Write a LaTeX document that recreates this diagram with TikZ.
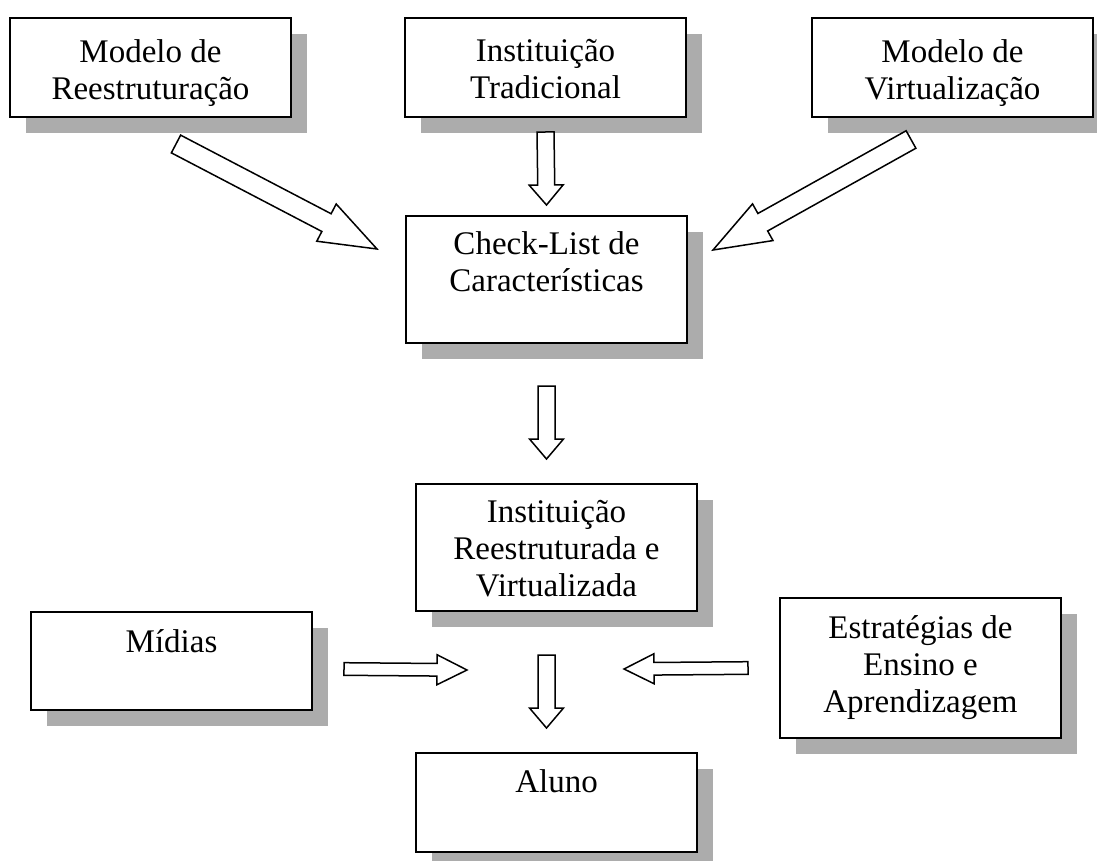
\documentclass[tikz,border=0pt]{standalone}
\usepackage{fontspec}
\setmainfont{Liberation Serif}
\usetikzlibrary{calc,shadows}
\definecolor{shadowgray}{RGB}{172, 172, 172}
% #1 tail, #2 tip, #3 half shaft, #4 half head, #5 head length
\newcommand{\blockarrow}[5]{%
  \draw[barrow]
    ($(#1)!#3!90:(#2)$) --
    ($(#2)!#5!(#1)!#3!-90:(#1)$) --
    ($(#2)!#5!(#1)!#4!-90:(#1)$) --
    (#2) --
    ($(#2)!#5!(#1)!#4!90:(#1)$) --
    ($(#2)!#5!(#1)!#3!90:(#1)$) --
    ($(#1)!#3!-90:(#2)$) -- cycle;}

\begin{document}
\begin{tikzpicture}[x=1pt, y=-1pt,
      box/.style={draw, fill=white, line width=2pt,
                  minimum width=281pt, inner sep=0pt, anchor=north west,
                  drop shadow={shadow xshift=16pt, shadow yshift=-16pt,
                               fill=shadowgray, opacity=1}},
      txt/.style={font=\fontsize{33}{37}\selectfont, align=center,
                  anchor=north, inner sep=0pt},
      barrow/.style={draw, fill=white, line width=1.5pt, line join=miter},
    ]
    \useasboundingbox (0,0) rectangle (1097,861);

    \node[box, minimum height=99pt] (reestr) at (9,17) {};
    \node[box, minimum height=99pt] (trad) at (404,17) {};
    \node[box, minimum height=99pt] (virt) at (811,17) {};
    \node[box, minimum height=127pt] (check) at (405,215) {};
    \node[box, minimum height=127pt] (inst) at (415,483) {};
    \node[box, minimum height=98pt] (midias) at (30,611) {};
    \node[box, minimum height=140pt] (estr) at (779,597) {};
    \node[box, minimum height=99pt] (aluno) at (415,752) {};

    \node[txt] (reestr-t) at ([yshift=-22pt]reestr.north) {Modelo de\\Reestruturação};
    \node[txt] (trad-t) at ([yshift=-22pt]trad.north) {Instituição\\Tradicional};
    \node[txt] (virt-t) at ([yshift=-22pt]virt.north) {Modelo de\\Virtualização};
    \node[txt] (check-t) at ([yshift=-16pt]check.north) {Check-List de\\Características};
    \node[txt] (inst-t) at ([yshift=-17pt]inst.north) {Instituição\\Reestruturada e\\Virtualizada};
    \node[txt] (midias-t) at ([yshift=-18pt]midias.north) {Mídias};
    \node[txt] (estr-t) at ([yshift=-18pt]estr.north) {Estratégias de\\Ensino e\\Aprendizagem};
    \node[txt] (aluno-t) at ([yshift=-17pt]aluno.north) {Aluno};

    %% arrow ends
    \coordinate[xshift=25.5pt, yshift=-26pt] (a1s) at (reestr.south);
    \coordinate[xshift=-28pt, yshift=-34pt] (a1e) at (check.north west);
    \coordinate[yshift=-14pt] (a2s) at (trad.south);
    \coordinate[yshift=10pt] (a2e) at (check.north);
    \coordinate[xshift=-41.5pt, yshift=-21.5pt] (a3s) at (virt.south);
    \coordinate[xshift=25pt, yshift=-35pt] (a3e) at (check.north east);
    \coordinate[yshift=-42pt] (a4s) at (check.south);
    \coordinate[yshift=24pt] (a4e) at (check.south |- inst.north);
    \coordinate[xshift=-10pt, yshift=-43pt] (a5s) at (inst.south);
    \coordinate[xshift=-10pt, yshift=24pt] (a5e) at (aluno.north);
    \coordinate[xshift=31pt, yshift=-8pt] (a6s) at (midias.east);
    \coordinate[xshift=52pt, yshift=-58pt] (a6e) at (inst.south west);
    \coordinate[xshift=-31pt] (a7s) at (estr.west);
    \coordinate[xshift=-74pt, yshift=-57pt] (a7e) at (inst.south east);

    \blockarrow{a1s}{a1e}{10pt}{21pt}{57pt}
    \blockarrow{a2s}{a2e}{8.5pt}{17pt}{20pt}
    \blockarrow{a3s}{a3e}{10pt}{21pt}{57pt}
    \blockarrow{a4s}{a4e}{8.5pt}{17pt}{20pt}
    \blockarrow{a5s}{a5e}{8.5pt}{17pt}{20pt}
    \blockarrow{a6s}{a6e}{6.3pt}{15pt}{30pt}
    \blockarrow{a7s}{a7e}{6.3pt}{15pt}{30pt}
\end{tikzpicture}
\end{document}
